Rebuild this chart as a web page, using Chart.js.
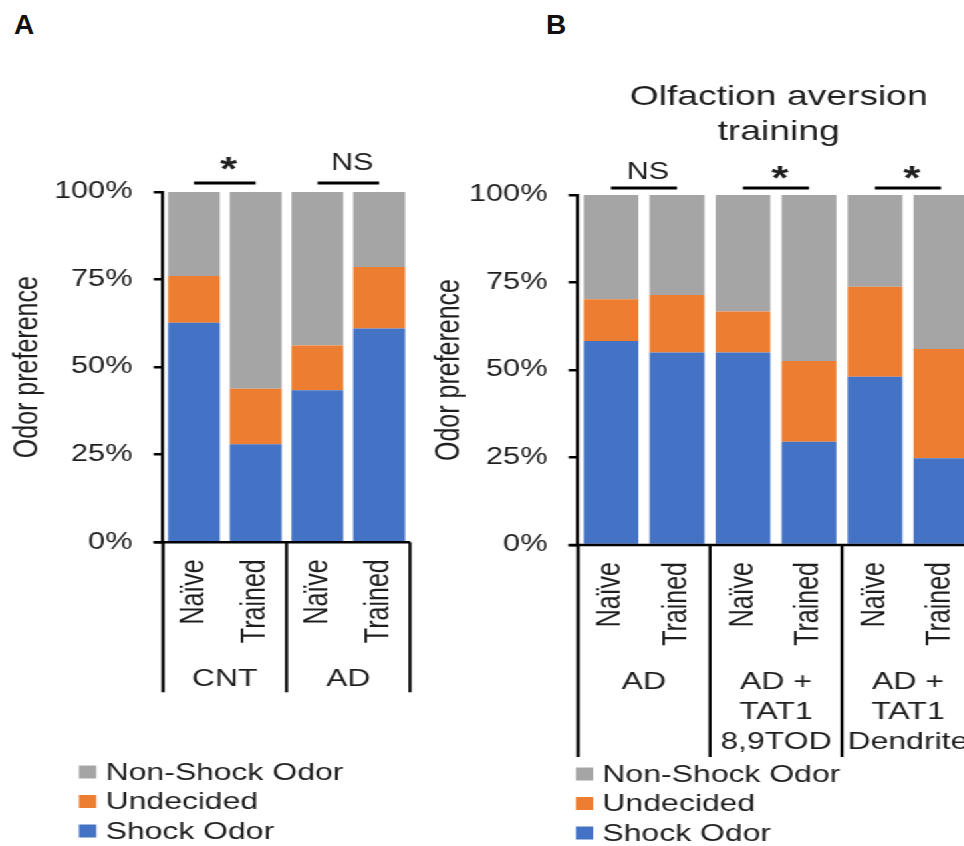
<!DOCTYPE html>
<html>
<head>
<meta charset="utf-8">
<script src="https://cdn.jsdelivr.net/npm/chart.js@4.4.1/dist/chart.umd.min.js"></script>
<style>
  html, body { margin: 0; padding: 0; background: #fff; width: 964px; height: 846px; overflow: hidden; }
  /* the original figure is stretched sideways, so the charts are drawn narrow and widened */
  #stretch { position: absolute; left: 0; top: 0; width: 740px; height: 846px; transform: scaleX(1.33); transform-origin: 0 0; }
  #stretch canvas { position: absolute; left: 0; top: 0; }
  .letter { position: absolute; top: 9px; font: bold 28px "Liberation Sans Narrow", "Liberation Sans", sans-serif; color: #111; }
</style>
</head>
<body>
<div class="letter" style="left:14px">A</div>
<div class="letter" style="left:546px">B</div>
<div id="stretch">
  <canvas id="chartA" width="740" height="846"></canvas>
  <canvas id="chartB" width="740" height="846"></canvas>
</div>
<script>
const seriesNames = ['Shock Odor', 'Undecided', 'Non-Shock Odor'];
const seriesColors = ['#4472C4', '#ED7D31', '#A5A5A5'];
const yTicks = [0, 25, 50, 75, 100];

// panel A
const conditionsA = ['Naïve', 'Trained', 'Naïve', 'Trained'];
const groupsA = [['CNT'], ['AD']];
const shockA = [62.7, 28.0, 43.4, 61.0];
const undecidedA = [13.3, 15.8, 12.8, 17.6];
const nonShockA = [24.0, 56.2, 43.8, 21.4];
const sigA = ['*', 'NS'];

// panel B
const conditionsB = ['Naïve', 'Trained', 'Naïve', 'Trained', 'Naïve', 'Trained'];
const groupsB = [['AD'], ['AD +', 'TAT1', '8,9TOD'], ['AD +', 'TAT1', 'Dendrite']];
const shockB = [58.3, 55.0, 55.0, 29.5, 48.1, 24.8];
const undecidedB = [11.9, 16.4, 11.7, 23.1, 25.7, 31.2];
const nonShockB = [29.8, 28.6, 33.3, 47.4, 26.2, 44.0];
const sigB = ['NS', '*', '*'];
const titleB = ['Olfaction aversion', 'training'];

const FONT = '"Liberation Sans", Arial, sans-serif';
const INK = '#1e1e1e';
Chart.defaults.color = INK;
Chart.defaults.font.family = FONT;

// category box under the bars, significance bars, title and legend
const decor = {
  id: 'decor',
  afterDraw(chart, args, o) {
    const { ctx, chartArea: ca } = chart;
    const x = chart.scales.x;
    const px = i => x.getPixelForValue(i);
    ctx.save();
    ctx.strokeStyle = '#000';
    ctx.fillStyle = INK;

    ctx.lineWidth = 2.5;
    ctx.beginPath();
    ctx.moveTo(ca.left - 7, ca.bottom);
    ctx.lineTo(ca.right, ca.bottom);
    ctx.stroke();

    const edges = [ca.left];
    for (let g = 1; g < o.groups.length; g++) edges.push((px(2 * g - 1) + px(2 * g)) / 2);
    edges.push(ca.right);
    ctx.lineWidth = 2.3;
    edges.forEach(e => {
      ctx.beginPath();
      ctx.moveTo(e, ca.bottom);
      ctx.lineTo(e, ca.bottom + o.boxDepth);
      ctx.stroke();
    });

    ctx.font = '25px ' + FONT;
    chart.data.labels.forEach((lab, i) => {
      ctx.save();
      ctx.translate(px(i), ca.bottom + 17);
      ctx.rotate(-Math.PI / 2);
      ctx.textAlign = 'right';
      ctx.textBaseline = 'middle';
      ctx.fillText(lab, 0, 0);
      ctx.restore();
    });

    ctx.font = '24px ' + FONT;
    ctx.textAlign = 'center';
    ctx.textBaseline = 'middle';
    o.groups.forEach((lines, g) => {
      const cx = (edges[g] + edges[g + 1]) / 2;
      lines.forEach((t, k) => ctx.fillText(t, cx, ca.bottom + 137 + k * 30));
    });

    const lineY = ca.top - o.sigGap;
    o.sig.forEach((lab, g) => {
      ctx.lineWidth = 2.8;
      ctx.beginPath();
      ctx.moveTo(px(2 * g), lineY);
      ctx.lineTo(px(2 * g + 1), lineY);
      ctx.stroke();
      const cx = (px(2 * g) + px(2 * g + 1)) / 2 + 3;
      const cy = lineY - o.sigLift;
      ctx.textAlign = 'center';
      ctx.textBaseline = 'alphabetic';
      if (lab === '*') {
        ctx.font = 'bold 33px ' + FONT;
        ctx.fillText(lab, cx, cy + 18);
      } else {
        ctx.font = '23px ' + FONT;
        ctx.fillText(lab, cx, cy + 8);
      }
    });

    if (o.title) {
      ctx.font = '28px ' + FONT;
      ctx.textBaseline = 'middle';
      const cx = (ca.left + ca.right) / 2 + 2;
      o.title.forEach((t, k) => ctx.fillText(t, cx, 97 + k * 35));
    }

    ctx.font = '24px ' + FONT;
    ctx.textAlign = 'left';
    ctx.textBaseline = 'middle';
    const ds = chart.data.datasets.slice().reverse();
    ds.forEach((d, k) => {
      const y = o.legendTop + k * 29.5;
      ctx.fillStyle = d.backgroundColor;
      ctx.fillRect(o.legendX, y - 6.5, 13, 13);
      ctx.fillStyle = INK;
      ctx.fillText(d.label, o.legendX + 20, y + 1);
    });
    ctx.restore();
  }
};

function makePanel(id, p) {
  const mk = (k, data) => ({
    label: seriesNames[k], data: data, backgroundColor: seriesColors[k],
    borderWidth: 0, barPercentage: p.barPct, categoryPercentage: 1
  });
  return new Chart(document.getElementById(id), {
    type: 'bar',
    data: {
      labels: p.conditions,
      datasets: [mk(0, p.shock), mk(1, p.undecided), mk(2, p.nonShock)]
    },
    options: {
      responsive: false,
      animation: false,
      events: [],
      layout: { padding: p.pad },
      plugins: {
        legend: { display: false },
        tooltip: { enabled: false },
        decor: p.decor
      },
      scales: {
        x: { stacked: true, display: false },
        y: {
          stacked: true, min: 0, max: 100,
          afterBuildTicks: s => { s.ticks = yTicks.map(v => ({ value: v })); },
          afterFit: s => { s.width = p.axisWidth; },
          ticks: { callback: v => v + '%', font: { size: 23 }, color: INK, padding: 16 },
          grid: { drawOnChartArea: false, drawTicks: true, tickLength: 7, color: '#000', lineWidth: 2.5 },
          border: { color: '#000', width: 2.3 },
          title: { display: true, text: 'Odor preference', font: { size: 25 }, color: INK, padding: { top: p.titlePad, bottom: 0 } }
        }
      }
    },
    plugins: [decor]
  });
}

makePanel('chartA', {
  conditions: conditionsA, shock: shockA, undecided: undecidedA, nonShock: nonShockA,
  barPct: 0.84,
  pad: { left: 0, top: 192, right: 431.7, bottom: 303.7 },
  axisWidth: 122.6, titlePad: 6,
  decor: { groups: groupsA, sig: sigA, boxDepth: 150, sigGap: 9, sigLift: 21, legendX: 59.4, legendTop: 772 }
});

makePanel('chartB', {
  conditions: conditionsB, shock: shockB, undecided: undecidedB, nonShock: nonShockB,
  barPct: 0.83,
  pad: { left: 320, top: 195, right: 7.7, bottom: 301 },
  axisWidth: 114.6, titlePad: 3,
  decor: { groups: groupsB, sig: sigB, title: titleB, boxDepth: 212, sigGap: 7, sigLift: 17, legendX: 433, legendTop: 774 }
});
</script>
</body>
</html>
